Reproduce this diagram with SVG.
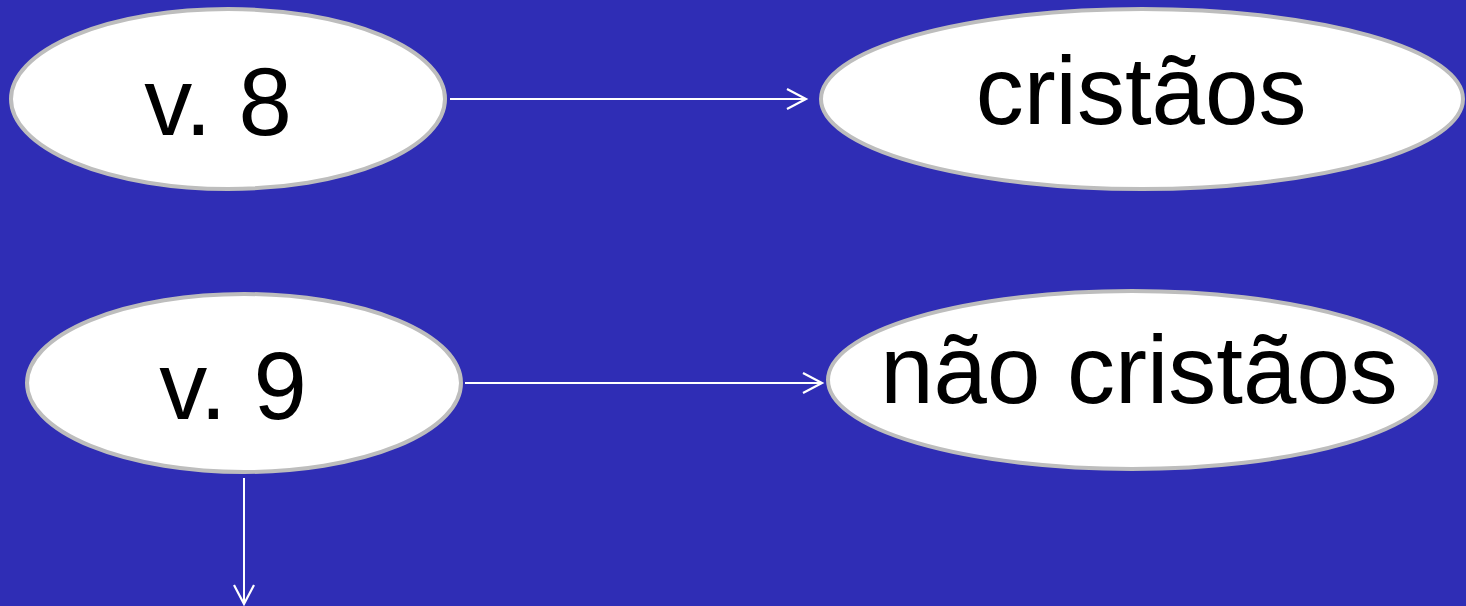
<svg xmlns="http://www.w3.org/2000/svg" width="1466" height="606" viewBox="0 0 1466 606">
<style>
.node ellipse{fill:#ffffff;stroke:#bdbdbd;stroke-width:4}
.node text{font-family:"Liberation Sans",Arial,sans-serif;font-size:96px;fill:#000;text-anchor:middle}
.conn line{stroke:#ffffff;stroke-width:2;fill:none}
</style>
<defs>
<marker id="arr" viewBox="0 0 24 24" refX="21" refY="12" markerWidth="24" markerHeight="24" markerUnits="userSpaceOnUse" orient="auto">
<path d="M2,2 L21,12 L2,22" fill="none" stroke="#ffffff" stroke-width="2.2"/>
</marker>
</defs>
<rect width="1466" height="606" fill="#2f2db5"/>
<g class="conn">
<line x1="450" y1="99" x2="806" y2="99" marker-end="url(#arr)"/>
<line x1="465" y1="383" x2="822" y2="383" marker-end="url(#arr)"/>
<line x1="244" y1="478" x2="244" y2="604" marker-end="url(#arr)"/>
</g>
<g id="n1" class="node"><ellipse cx="228" cy="99" rx="217" ry="90"/><text x="218" y="135">v. 8</text></g>
<g id="n2" class="node"><ellipse cx="1142" cy="99" rx="321" ry="90"/><text x="1141" y="124">cristãos</text></g>
<g id="n3" class="node"><ellipse cx="244" cy="383" rx="217" ry="89"/><text x="233" y="419">v. 9</text></g>
<g id="n4" class="node"><ellipse cx="1132" cy="380" rx="304" ry="89"/><text x="1139" y="403">não cristãos</text></g>
</svg>
